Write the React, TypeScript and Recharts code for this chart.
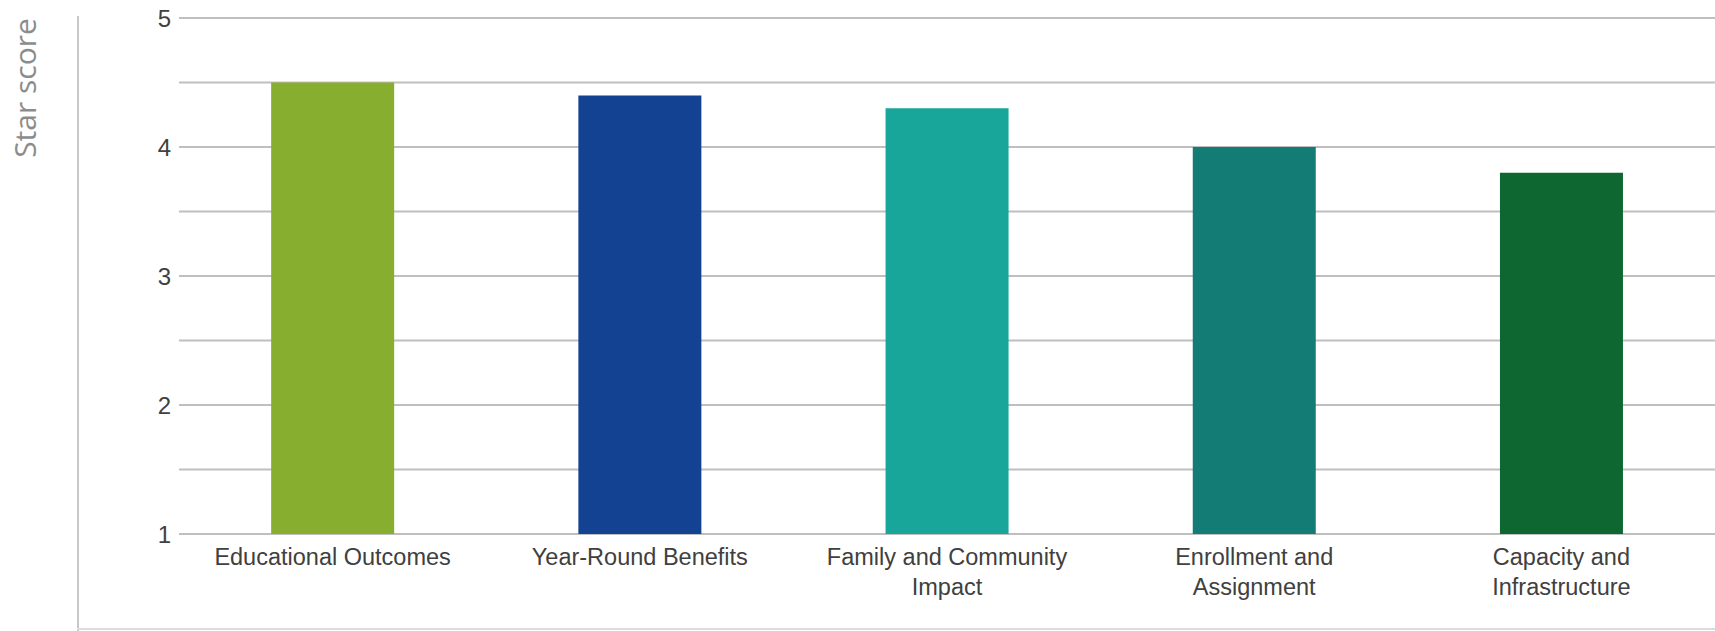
import React from "react";
import { BarChart, Bar, XAxis, YAxis, CartesianGrid, Cell, Label } from "recharts";

const categories = [
  "Educational Outcomes",
  "Year-Round Benefits",
  "Family and Community Impact",
  "Enrollment and Assignment",
  "Capacity and Infrastructure",
];
const scores = [4.5, 4.4, 4.3, 4.0, 3.8];
const barColors = ["#87AE2F", "#134293", "#18A59A", "#137C74", "#0E6630"];
const yTicks = [1, 1.5, 2, 2.5, 3, 3.5, 4, 4.5, 5];
const yAxisTitle = "Star score";

const data = categories.map((c, i) => ({ name: c, score: scores[i] }));

function wrap(text: string, max: number): string[] {
  const words = text.split(" ");
  const lines: string[] = [];
  let cur = "";
  for (const w of words) {
    const next = cur ? cur + " " + w : w;
    if (next.length > max && cur) {
      lines.push(cur);
      cur = w;
    } else {
      cur = next;
    }
  }
  if (cur) lines.push(cur);
  return lines;
}

const XTick = (props: any) => {
  const { x, y, payload } = props;
  const lines = wrap(String(payload.value), 20);
  return (
    <text
      x={x}
      y={y}
      textAnchor="middle"
      fill="#404040"
      fontSize={23.5}
      fontFamily="'Liberation Sans', Arial, sans-serif"
    >
      {lines.map((l, i) => (
        <tspan key={i} x={x} dy={i === 0 ? 23 : 30}>
          {l}
        </tspan>
      ))}
    </text>
  );
};

export default function App() {
  return (
    <div style={{ position: "absolute", left: 0, top: 0, width: 1715, height: 631, background: "#fff" }}>
      <div style={{ position: "absolute", left: 77, top: 16, width: 2, height: 615, background: "#c8c8c8" }} />
      <div style={{ position: "absolute", left: 77, top: 628, width: 1638, height: 2, background: "#dcdcdc" }} />
      <BarChart
        width={1715}
        height={631}
        data={data}
        margin={{ top: 18, right: 0, bottom: 0, left: 0 }}
        barCategoryGap="30%"
        style={{ position: "absolute", left: 0, top: 0 }}
      >
        <CartesianGrid vertical={false} stroke="#bfbfbf" strokeWidth={2} />
        <XAxis
          dataKey="name"
          axisLine={false}
          tickLine={false}
          height={97}
          interval={0}
          tick={<XTick />}
        />
        <YAxis
          domain={[1, 5]}
          ticks={yTicks}
          interval={0}
          width={179}
          axisLine={false}
          tickLine={false}
          tickFormatter={(v: number) => (Number.isInteger(v) ? String(v) : "")}
          tick={{ fill: "#404040", fontSize: 24, fontFamily: "'Liberation Sans', Arial, sans-serif" }}
        >
          <Label
            value={yAxisTitle}
            angle={-90}
            position="insideTopLeft"
            content={() => (
              <text
                x={0}
                y={0}
                transform="translate(36 88) rotate(-90)"
                textAnchor="middle"
                fill="#8c8c8c"
                fontSize={30}
                fontFamily="'Open Sans', sans-serif"
              >
                {yAxisTitle}
              </text>
            )}
          />
        </YAxis>
        <Bar dataKey="score" isAnimationActive={false}>
          {data.map((d, i) => (
            <Cell key={d.name} fill={barColors[i]} />
          ))}
        </Bar>
      </BarChart>
    </div>
  );
}
